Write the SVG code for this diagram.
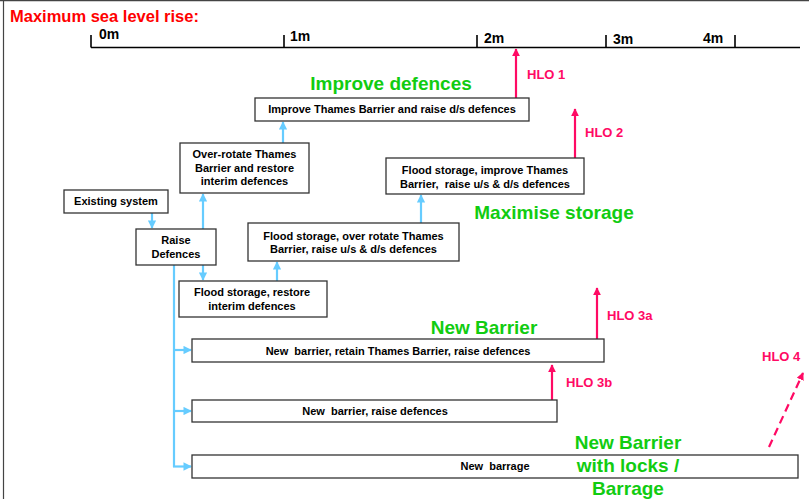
<svg xmlns="http://www.w3.org/2000/svg" width="809" height="499" viewBox="0 0 809 499">
<defs>
<style>
.box{fill:#fff;stroke:#333;stroke-width:1.3}
.t{font-family:"Liberation Sans",Arial,sans-serif;font-weight:bold;font-size:11px;fill:#000;text-anchor:middle;white-space:pre}
.ax{font-family:"Liberation Sans",Arial,sans-serif;font-weight:bold;font-size:14px;fill:#000}
.g{font-family:"Liberation Sans",Arial,sans-serif;font-weight:bold;font-size:19px;fill:#11cc11;text-anchor:middle}
.h{font-family:"Liberation Sans",Arial,sans-serif;font-weight:bold;font-size:13px;fill:#ff0a64}
.c{stroke:#66ccff;stroke-width:2.2;fill:none}
.p{stroke:#ff0a64;stroke-width:2.2;fill:none}
</style>
<marker id="ab" viewBox="0 0 10 10" refX="9" refY="5" markerWidth="3.8" markerHeight="3.8" orient="auto" markerUnits="strokeWidth"><path d="M0,0L10,5L0,10z" fill="#66ccff"/></marker>
<marker id="ap" viewBox="0 0 10 10" refX="9" refY="5" markerWidth="3.5" markerHeight="3.5" orient="auto" markerUnits="strokeWidth"><path d="M0,0L10,5L0,10z" fill="#ff0a64"/></marker>
</defs>
<rect width="809" height="499" fill="#fff"/>
<g id="frame" stroke="#444" stroke-width="1.2" fill="none">
<path d="M0,0.6H809M3.5,0V499"/>
</g>
<g id="axis">
<text x="10" y="22" font-family="Liberation Sans,Arial,sans-serif" font-weight="bold" font-size="16.5" fill="#ff0000">Maximum sea level rise:</text>
<path d="M91,47.5H800M91,35V47.5M284,35V47.5M477,35V47.5M606,35V47.5M735,35V47.5" stroke="#000" stroke-width="1.6" fill="none"/>
<text class="ax" x="99" y="39">0m</text>
<text class="ax" x="290" y="41">1m</text>
<text class="ax" x="484" y="43">2m</text>
<text class="ax" x="613" y="44">3m</text>
<text class="ax" x="703" y="43">4m</text>
</g>
<g id="connectors">
<path class="c" d="M152,213V228" marker-end="url(#ab)"/>
<path class="c" d="M203,229V194" marker-end="url(#ab)"/>
<path class="c" d="M203,265V280" marker-end="url(#ab)"/>
<path class="c" d="M283,143V122" marker-end="url(#ab)"/>
<path class="c" d="M277,281V262" marker-end="url(#ab)"/>
<path class="c" d="M421,223V195" marker-end="url(#ab)"/>
<path class="c" d="M174,265V467"/>
<path class="c" d="M173,350H191" marker-end="url(#ab)"/>
<path class="c" d="M173,411H191" marker-end="url(#ab)"/>
<path class="c" d="M173,466.5H191" marker-end="url(#ab)"/>
<path class="p" d="M516,98V49" marker-end="url(#ap)"/>
<path class="p" d="M575,158V109" marker-end="url(#ap)"/>
<path class="p" d="M597,339V288" marker-end="url(#ap)"/>
<path class="p" d="M552,400V365" marker-end="url(#ap)"/>
<path class="p" d="M769,447L803,373" stroke-dasharray="8,5" marker-end="url(#ap)"/>
</g>
<g id="n-existing"><rect class="box" x="64" y="190" width="104" height="23"/><text class="t" x="116" y="205">Existing system</text></g>
<g id="n-raise"><rect class="box" x="136" y="229" width="80" height="36"/><text class="t" x="176" y="244">Raise</text><text class="t" x="176" y="258">Defences</text></g>
<g id="n-overrotate"><rect class="box" x="180" y="143" width="129" height="50"/><text class="t" x="244.5" y="158">Over-rotate Thames</text><text class="t" x="244.5" y="172">Barrier and restore</text><text class="t" x="244.5" y="185">interim defences</text></g>
<g id="n-fsrestore"><rect class="box" x="179" y="281" width="148" height="36"/><text class="t" x="252" y="296">Flood storage, restore</text><text class="t" x="252" y="310">interim defences</text></g>
<g id="n-improve"><rect class="box" x="255" y="98" width="274" height="23"/><text class="t" x="392" y="113">Improve Thames Barrier and raise d/s defences</text></g>
<g id="n-fsimprove"><rect class="box" x="386" y="158" width="198" height="36"/><text class="t" x="485" y="174">Flood storage, improve Thames</text><text class="t" x="485" y="188">Barrier,  raise u/s &amp; d/s defences</text></g>
<g id="n-fsover"><rect class="box" x="248" y="223" width="211" height="38"/><text class="t" x="353.5" y="240">Flood storage, over rotate Thames</text><text class="t" x="353.5" y="253">Barrier, raise u/s &amp; d/s defences</text></g>
<g id="n-newretain"><rect class="box" x="192" y="339" width="412" height="23"/><text class="t" x="398" y="355">New  barrier, retain Thames Barrier, raise defences</text></g>
<g id="n-newraise"><rect class="box" x="192" y="400" width="365" height="22"/><text class="t" x="375" y="415">New  barrier, raise defences</text></g>
<g id="n-barrage"><rect class="box" x="192" y="455" width="606" height="23"/><text class="t" x="495" y="470">New  barrage</text></g>
<g id="labels">
<text class="g" x="391" y="90">Improve defences</text>
<text class="g" x="554" y="219">Maximise storage</text>
<text class="g" x="484" y="334">New Barrier</text>
<text class="g" x="628" y="449">New Barrier</text>
<text class="g" x="628" y="472">with locks /</text>
<text class="g" x="628" y="495">Barrage</text>
<text class="h" x="527" y="79">HLO 1</text>
<text class="h" x="585" y="137">HLO 2</text>
<text class="h" x="607" y="320">HLO 3a</text>
<text class="h" x="566" y="387">HLO 3b</text>
<text class="h" x="762" y="361">HLO 4</text>
</g>
</svg>
